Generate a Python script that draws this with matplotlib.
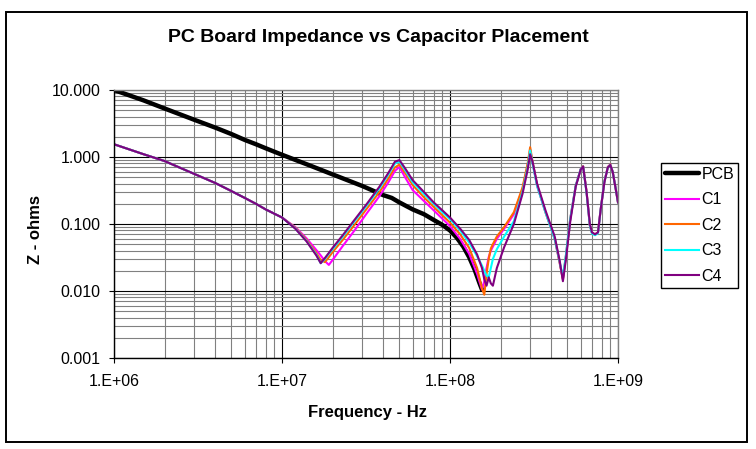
import numpy as np
import matplotlib
matplotlib.use("Agg")
import matplotlib.pyplot as plt
from matplotlib.ticker import LogLocator, FixedLocator, NullFormatter
from matplotlib.patches import Rectangle

plt.rcParams['font.family'] = ['Liberation Sans', 'DejaVu Sans']

# ---- data ----
pcb_freq = [1.0e6, 1.5e6, 2e6, 3e6, 4e6, 5e6, 6e6, 7e6, 8e6, 1.0e7, 1.5e7, 2e7, 3e7,
            4e7, 4.5e7, 5e7, 5.5e7, 6e7, 7e7, 8e7, 9e7, 1.0e8, 1.1e8, 1.2e8, 1.3e8,
            1.4e8, 1.5e8, 1.55e8]
pcb_z = [10.0, 7.0, 5.3, 3.6, 2.75, 2.2, 1.8, 1.55, 1.35, 1.08, 0.73, 0.55, 0.37,
         0.27, 0.245, 0.21, 0.185, 0.165, 0.14, 0.115, 0.097, 0.08, 0.062, 0.046, 0.032,
         0.021, 0.013, 0.0105]

freq = [1.0e6, 1.5e6, 2e6, 3e6, 4e6, 5e6, 6e6, 7e6, 8e6, 1.0e7,
        1.2e7, 1.4e7, 1.6e7, 1.7e7, 1.8e7, 1.9e7, 2.0e7, 2.3e7, 2.7e7, 3.2e7,
        3.8e7, 4.3e7, 4.7e7, 5.0e7, 5.4e7, 6.0e7, 7.0e7, 8.0e7, 9.0e7, 1.0e8,
        1.15e8, 1.3e8, 1.45e8, 1.55e8, 1.6e8, 1.65e8, 1.7e8, 1.75e8, 1.8e8, 1.9e8,
        2.1e8, 2.4e8, 2.7e8, 2.9e8, 3.0e8, 3.1e8, 3.3e8, 3.7e8, 4.2e8, 4.5e8,
        4.7e8, 4.9e8, 5.2e8, 5.6e8, 6.0e8, 6.2e8, 6.5e8, 6.8e8, 7.0e8, 7.3e8,
        7.6e8, 7.9e8, 8.3e8, 8.7e8, 9.0e8, 9.3e8, 9.7e8, 1.0e9]

c1_z = [1.55, 1.1, 0.87, 0.56, 0.41, 0.31, 0.245, 0.2, 0.165, 0.125,
        0.09, 0.061, 0.041, 0.034, 0.028, 0.0245, 0.029, 0.047, 0.08, 0.145,
        0.26, 0.42, 0.62, 0.71, 0.5, 0.32, 0.22, 0.16, 0.12, 0.093,
        0.06, 0.036, 0.018, 0.0105, 0.014, 0.022, 0.032, 0.04, 0.046, 0.06,
        0.085, 0.14, 0.33, 0.75, 1.3, 0.82, 0.37, 0.15, 0.06, 0.026,
        0.015, 0.033, 0.12, 0.37, 0.66, 0.73, 0.3, 0.095, 0.074, 0.07,
        0.075, 0.17, 0.43, 0.71, 0.77, 0.6, 0.33, 0.21]

c2_z = [1.55, 1.1, 0.87, 0.56, 0.41, 0.31, 0.245, 0.2, 0.165, 0.125,
        0.088, 0.058, 0.037, 0.029, 0.027, 0.032, 0.038, 0.058, 0.097, 0.17,
        0.3, 0.48, 0.7, 0.77, 0.58, 0.38, 0.25, 0.18, 0.135, 0.105,
        0.07, 0.044, 0.022, 0.011, 0.0088, 0.018, 0.03, 0.043, 0.05, 0.065,
        0.09, 0.15, 0.35, 0.8, 1.4, 0.85, 0.38, 0.15, 0.06, 0.026,
        0.015, 0.034, 0.12, 0.37, 0.66, 0.73, 0.3, 0.095, 0.074, 0.07,
        0.075, 0.17, 0.43, 0.71, 0.77, 0.6, 0.33, 0.21]

c3_z = [1.55, 1.1, 0.87, 0.56, 0.41, 0.31, 0.245, 0.2, 0.165, 0.125,
        0.086, 0.056, 0.035, 0.026, 0.030, 0.036, 0.042, 0.065, 0.11, 0.19,
        0.34, 0.55, 0.8, 0.86, 0.64, 0.42, 0.28, 0.2, 0.15, 0.118,
        0.08, 0.053, 0.033, 0.024, 0.02, 0.017, 0.016, 0.022, 0.03, 0.042,
        0.065, 0.11, 0.3, 0.7, 1.25, 0.8, 0.37, 0.15, 0.06, 0.027,
        0.016, 0.035, 0.12, 0.37, 0.66, 0.72, 0.29, 0.095, 0.072, 0.068,
        0.073, 0.17, 0.43, 0.7, 0.76, 0.6, 0.33, 0.21]

c4_z = [1.55, 1.1, 0.87, 0.56, 0.41, 0.31, 0.245, 0.2, 0.165, 0.125,
        0.085, 0.055, 0.034, 0.026, 0.031, 0.037, 0.044, 0.068, 0.115, 0.2,
        0.36, 0.58, 0.85, 0.9, 0.68, 0.45, 0.3, 0.21, 0.16, 0.125,
        0.085, 0.058, 0.035, 0.022, 0.015, 0.012, 0.016, 0.013, 0.012, 0.022,
        0.045, 0.1, 0.28, 0.65, 1.1, 0.85, 0.4, 0.16, 0.065, 0.028,
        0.014, 0.03, 0.11, 0.36, 0.65, 0.72, 0.3, 0.1, 0.075, 0.07,
        0.075, 0.17, 0.42, 0.7, 0.76, 0.6, 0.33, 0.21]

series_names = ['C1', 'C2', 'C3', 'C4']
series_colors = ['#FF00FF', '#FF6600', '#00FFFF', '#800080']

y_ticks = [0.001, 0.01, 0.1, 1, 10]
y_ticklabels = ['0.001', '0.010', '0.100', '1.000', '10.000']
x_ticks = [1e6, 1e7, 1e8, 1e9]
x_ticklabels = ['1.E+06', '1.E+07', '1.E+08', '1.E+09']

# ---- figure ----
fig = plt.figure(figsize=(7.56, 4.49), dpi=100)
ax = fig.add_axes([114/756, 1 - 358/449, (618 - 114)/756, (358 - 90)/449])

ax.plot(pcb_freq, pcb_z, color='black', lw=3.2, solid_capstyle='round', label='PCB')
for z, name, col in zip([c1_z, c2_z, c3_z, c4_z], series_names, series_colors):
    ax.plot(freq, z, color=col, lw=1.5, label=name)

ax.set_xscale('log')
ax.set_yscale('log')
ax.set_xlim(1e6, 1e9)
ax.set_ylim(1e-3, 10)

ax.xaxis.set_major_locator(FixedLocator(x_ticks))
ax.set_xticklabels(x_ticklabels)
ax.yaxis.set_major_locator(FixedLocator(y_ticks))
ax.set_yticklabels(y_ticklabels)
ax.xaxis.set_minor_locator(LogLocator(base=10, subs=np.arange(2, 10)))
ax.yaxis.set_minor_locator(LogLocator(base=10, subs=np.arange(2, 10)))
ax.xaxis.set_minor_formatter(NullFormatter())
ax.yaxis.set_minor_formatter(NullFormatter())

ax.set_axisbelow(True)
ax.grid(which='minor', color='#808080', lw=0.8)
ax.grid(which='major', color='black', lw=0.8)

ax.tick_params(which='major', direction='out', length=3.5, width=0.8,
               labelsize=11.5, colors='black')
ax.tick_params(axis='x', pad=8)
ax.tick_params(axis='y', pad=6)
ax.tick_params(which='minor', length=0)

for s in ['left', 'bottom']:
    ax.spines[s].set_color('black')
    ax.spines[s].set_linewidth(1.0)
for s in ['top', 'right']:
    ax.spines[s].set_color('#808080')
    ax.spines[s].set_linewidth(1.0)

fig.text(0.5, 1 - 38/449, 'PC Board Impedance vs Capacitor Placement',
         ha='center', va='center', fontsize=14, fontweight='bold')
fig.text(367/756, 1 - 412/449, 'Frequency - Hz', ha='center', va='center',
         fontsize=12, fontweight='bold')
fig.text(35/756, 1 - 230/449, 'Z - ohms', ha='center', va='center',
         rotation=90, fontsize=12, fontweight='bold')

leg = ax.legend(loc='upper left', bbox_to_anchor=(661/756, 1 - 163/449),
                bbox_transform=fig.transFigure, borderaxespad=0, fontsize=11.5,
                frameon=True, fancybox=False, framealpha=1, edgecolor='black',
                borderpad=0.25, labelspacing=0.65, handlelength=2.1,
                handletextpad=0.2)
leg.get_frame().set_linewidth(1.0)

# outer chart border
fig.patches.append(Rectangle((6/756, 1 - 442/449), 741/756, 430/449,
                             transform=fig.transFigure, fill=False,
                             edgecolor='black', lw=1.4))

fig.savefig('out.png', dpi=100)
